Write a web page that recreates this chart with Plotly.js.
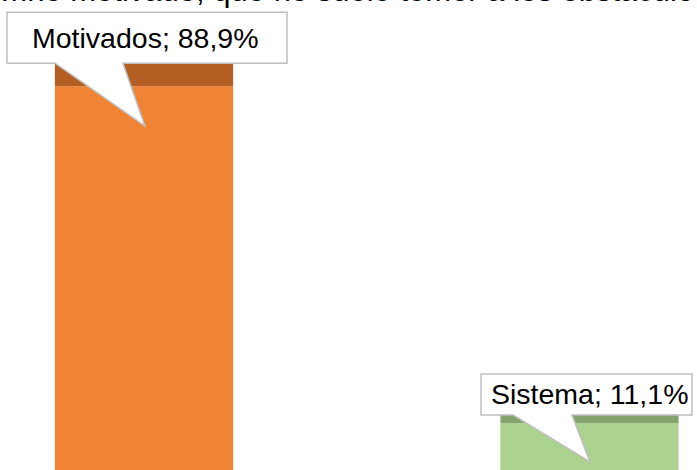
<!DOCTYPE html>
<html>
<head>
<meta charset="utf-8">
<script src="https://cdn.plot.ly/plotly-3.0.1.min.js"></script>
<style>html,body{margin:0;padding:0;background:#fff;}#chart{width:697px;height:470px;}</style>
</head>
<body>
<div id="chart"></div>
<script>
// ---- data ----
const categories = ["Motivados", "Sistema"];
const values = [88.9, 11.1];
const labels = ["Motivados; 88,9%", "Sistema; 11,1%"];
const titleText = "alumno motivado, que no suele temer a los obstáculos";

// ---- styles ----
const frontColors = ["#F08434", "#ABD28F"];
const topColors = ["#B45E24", "#84A36E"];
const yRange = [0.23, 108.8];
const pxPerUnit = 470 / (yRange[1] - yRange[0]);
const topDepth = 23 / pxPerUnit;   // 3D top-face thickness, in data units
const FONT = "Liberation Sans, Arial, sans-serif";

const xIdx = categories.map((_, i) => i);

const front = {
  type: "bar", x: xIdx, y: values, width: 0.4,
  marker: {color: frontColors, line: {width: 0}},
  hoverinfo: "skip", showlegend: false
};
const topFace = {
  type: "bar", x: xIdx, y: values.map(() => topDepth), base: values, width: 0.4,
  marker: {color: topColors, line: {width: 0}},
  hoverinfo: "skip", showlegend: false
};

// callout geometry (pixel offsets relative to each data point, y up)
const callouts = [
  {bx0: -137, bx1: 143, by0: 23, by1: 74, p0: -89, p1: -21, tip: [1, -40], tx: 2, ty: 48.5},
  {bx0: -108.5, bx1: 102.5, by0: 8, by1: 49, p0: -76.5, p1: -17.5, tip: [0.5, -39], tx: 0, ty: 28.5}
];

const shapes = callouts.map((c, i) => ({
  type: "path", xref: "x", yref: "y", xsizemode: "pixel", ysizemode: "pixel",
  xanchor: xIdx[i], yanchor: values[i],
  path: `M ${c.bx0},${c.by1} L ${c.bx1},${c.by1} L ${c.bx1},${c.by0} L ${c.p1},${c.by0} L ${c.tip[0]},${c.tip[1]} L ${c.p0},${c.by0} L ${c.bx0},${c.by0} Z`,
  fillcolor: "#FFFFFF", line: {color: "#BFBFBF", width: 1.5}, layer: "above"
}));

const annotations = callouts.map((c, i) => ({
  xref: "x", yref: "y", x: xIdx[i], y: values[i], text: labels[i],
  showarrow: false, xanchor: "center", yanchor: "middle",
  xshift: c.tx, yshift: c.ty,
  font: {family: FONT, size: 28.5, color: "#000000"}
}));

annotations.push({
  xref: "paper", yref: "paper", x: -0.0603, y: 1, xanchor: "left", yanchor: "bottom",
  yshift: -10, text: titleText, showarrow: false,
  font: {family: FONT, size: 31, color: "#000000"}
});

const layout = {
  width: 697, height: 470,
  margin: {l: 0, r: 0, t: 0, b: 0},
  paper_bgcolor: "#FFFFFF", plot_bgcolor: "#FFFFFF",
  barmode: "overlay",
  xaxis: {range: [-0.3232, 1.2413], visible: false, fixedrange: true},
  yaxis: {range: yRange, visible: false, fixedrange: true},
  shapes: shapes,
  annotations: annotations,
  showlegend: false
};

Plotly.newPlot("chart", [front, topFace], layout, {displayModeBar: false, staticPlot: true});
</script>
</body>
</html>
